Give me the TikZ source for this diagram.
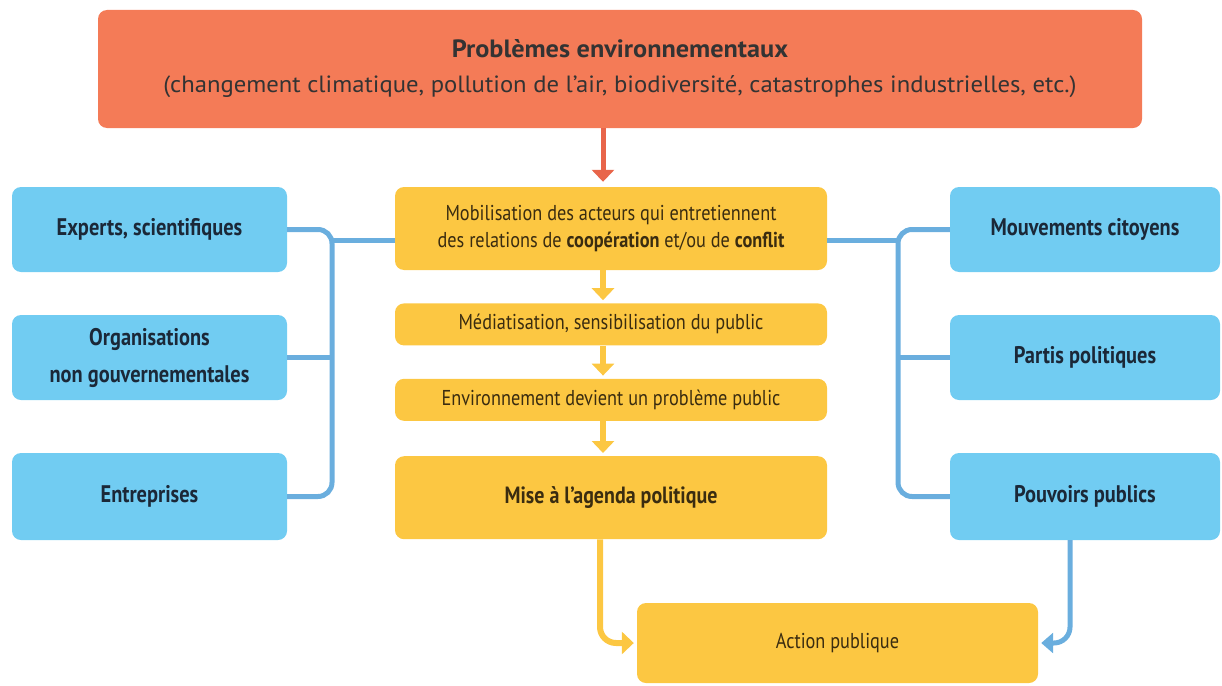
\documentclass[tikz,border=0pt]{standalone}
\usepackage{fontspec}
\setmainfont[FakeStretch=0.85]{PT Sans}
\newfontfamily\topfont[FakeStretch=1.05]{PT Sans}
\usetikzlibrary{arrows.meta, positioning, calc}
\definecolor{probred}{HTML}{F47B57}
\definecolor{arrowred}{HTML}{E8654A}
\definecolor{stepyellow}{HTML}{FCC742}
\definecolor{actorblue}{HTML}{71CCF2}
\definecolor{linkblue}{HTML}{6AAEDE}
\definecolor{inknavy}{HTML}{1B2838}
\definecolor{inkbrown}{HTML}{3A2C10}

\begin{document}
\begin{tikzpicture}[
  x=1pt, y=-1pt,
  pb/.style={fill=probred, rounded corners=9pt, minimum width=1044pt, minimum height=118pt, align=center, text=black!80, font=\topfont\fontsize{23.5}{35}\selectfont},
  st/.style={fill=stepyellow, rounded corners=9pt, minimum width=432pt, align=center, text=inkbrown, font=\fontsize{21.5}{27}\selectfont},
  ac/.style={fill=actorblue, rounded corners=9pt, minimum width=275pt, minimum height=85pt, align=center, text=inknavy, font=\fontsize{24}{37}\selectfont\bfseries},
  link/.style={draw=linkblue, line width=5pt},
  redarrow/.style={draw=arrowred, line width=5pt, -{Triangle[width=22pt, length=12pt]}, shorten >=5pt},
  yelarrow/.style={draw=stepyellow, line width=6pt, -{Triangle[width=22pt, length=12pt]}, shorten >=3pt},
  bluarrow/.style={draw=linkblue, line width=5pt, -{Triangle[width=20pt, length=12pt]}, shorten >=3pt}
]
\useasboundingbox (0,0) rectangle (1222,685);

% ---- problem at the top ----
\node[pb] (prob) at (620,69) {{\fontsize{25}{35}\selectfont\bfseries Problèmes environnementaux}\\(changement climatique, pollution de l’air, biodiversité, catastrophes industrielles, etc.)};

% ---- central chain ----
\node[st, minimum height=83pt] (mob) at (611,228.5) {Mobilisation des acteurs qui entretiennent\\des relations de \textbf{coopération} et/ou de \textbf{conflit}};
\node[st, minimum height=42pt, below=33pt of mob] (med) {Médiatisation, sensibilisation du public};
\node[st, minimum height=42pt, below=33pt of med] (env) {Environnement devient un problème public};
\node[st, minimum height=83pt, below=35pt of env, font=\fontsize{23.5}{27}\selectfont\bfseries] (agenda) {Mise à l’agenda politique};
\node[st, minimum width=401pt, minimum height=80pt] (action) at (837.5,643) {Action publique};

% ---- actors, left ----
\node[ac] (exp) at (149.5,229.5) {Experts, scientifiques};
\node[ac] (ong) at (149.5,357.5) {Organisations\\non gouvernementales};
\node[ac, minimum height=87pt] (entr) at (149.5,496.5) {Entreprises};

% ---- actors, right ----
\node[ac, minimum width=270pt] (mvt) at (1085,229.5) {Mouvements citoyens};
\node[ac, minimum width=270pt] (partis) at (1085,357.5) {Partis politiques};
\node[ac, minimum width=270pt, minimum height=87pt] (pouv) at (1085,496.5) {Pouvoirs publics};

% ---- arrows down the chain ----
\draw[redarrow] ([xshift=-8pt]mob.north |- prob.south) -- ([xshift=-8pt]mob.north);
\foreach \a/\b in {mob/med, med/env, env/agenda}
  \draw[yelarrow] ([xshift=-8pt]\a.south) -- ([xshift=-8pt]\b.north);

% ---- actor buses ----
\coordinate (ljoin) at (332,240);
\coordinate (rjoin) at (898,240);
\draw[link, rounded corners=14pt] (exp.east) -| (entr.east -| ljoin) -- (entr.east);
\draw[link] (ong.east) -- (ong.east -| ljoin);
\draw[link] (ljoin) -- (mob.west |- ljoin);
\draw[link, rounded corners=14pt] (mvt.west) -| (pouv.west -| rjoin) -- (pouv.west);
\draw[link] (partis.west) -- (partis.west -| rjoin);
\draw[link] (rjoin) -- (mob.east |- rjoin);

% ---- into the public action ----
\draw[yelarrow, rounded corners=16pt] ([xshift=-11pt]agenda.south) |- (action.west);
\draw[bluarrow, rounded corners=16pt] ([xshift=-15pt]pouv.south) |- (action.east);
\end{tikzpicture}
\end{document}
